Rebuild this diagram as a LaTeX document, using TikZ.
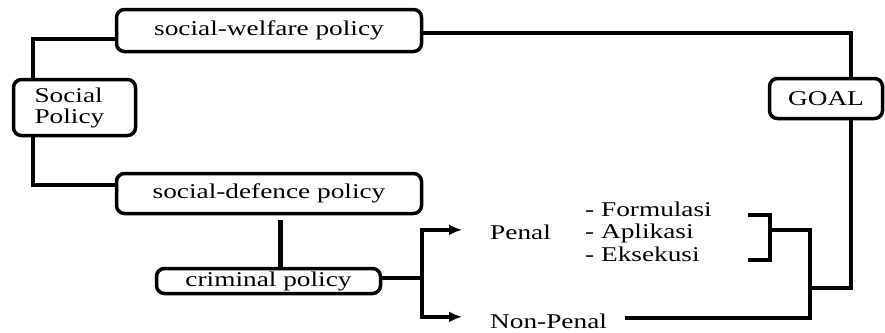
\documentclass[tikz,border=0pt]{standalone}
\usepackage{fontspec}
\setmainfont{Liberation Serif}[FakeStretch=1.3]
\usetikzlibrary{arrows.meta}

\begin{document}
\begin{tikzpicture}[x=1pt, y=-1pt,
  txt/.style={font=\fontsize{21}{21}\selectfont, inner sep=0pt},
  box/.style={txt, draw, line width=3.5pt, rounded corners=8pt},
  link/.style={line width=4.5pt},
  arrow/.style={line width=3.5pt, -{Latex[length=13pt, width=11pt]}}]
\useasboundingbox (0,0) rectangle (885,332);

\node[box, minimum width=305pt, minimum height=42pt] (welfare) at (269,30.5) {social-welfare policy};
\node[box, minimum width=122pt, minimum height=56pt, text width=80pt, align=left] (social) at (74.5,107.5) {Social\\Policy};
\node[box, minimum width=305pt, minimum height=40pt] (defence) at (269,193.5) {social-defence policy};
\node[box, minimum width=224pt, minimum height=25pt] (criminal) at (268.5,281) {criminal policy};
\node[box, minimum width=113pt, minimum height=40pt] (goal) at (826,98.5) {GOAL};

\node[txt, anchor=base west] (penal) at (490,239) {Penal};
\node[txt, anchor=base west] (nonpenal) at (490,328) {Non-Penal};
\node[txt, anchor=base west] (form) at (585,216) {- Formulasi};
\node[txt, anchor=base west] (apli) at (585,238.5) {- Aplikasi};
\node[txt, anchor=base west] (eks) at (585,261) {- Eksekusi};

\coordinate (fork) at (422,278);
\coordinate (brk) at (770,230);
\coordinate (elbow) at (810,230);
\coordinate (join) at (810,288);
\coordinate (npend) at (625,318);

% social policy branches
\draw[link] ([yshift=-8.5pt]welfare.west) -| ([xshift=-41.5pt]social.north);
\draw[link] ([xshift=-41.5pt]social.south) |- ([yshift=8.5pt]defence.west);
\draw[link] ([yshift=-2.5pt]welfare.east) -| ([xshift=25pt]goal.north);
\draw[link, shorten <=5pt] ([xshift=11.5pt]defence.south) -- ([xshift=11.5pt]defence.south |- criminal.north);

% criminal policy
\draw[link] ([yshift=3pt]criminal.east) -- (fork);
\draw[arrow] (fork) |- ([xshift=-28pt,yshift=2pt]penal.west);
\draw[arrow] (fork) |- ([xshift=-28pt,yshift=4pt]nonpenal.west);

% bracket and goal
\draw[link] (748,215) -- (770,215) -- (770,260) -- (748,260);
\draw[link] (brk) -- (elbow) |- (npend);
\draw[link] (join) -| ([xshift=25pt]goal.south);
\end{tikzpicture}
\end{document}
